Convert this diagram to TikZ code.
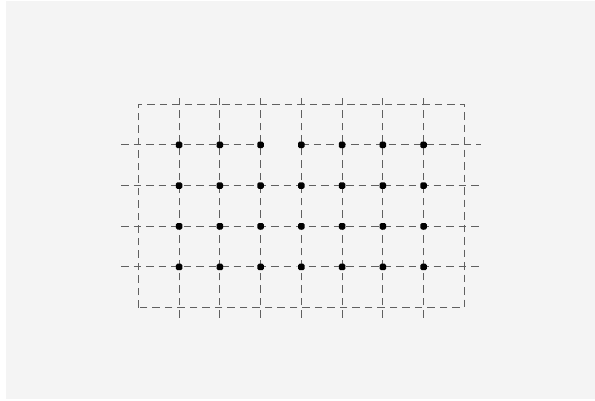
\documentclass[tikz,border=0pt]{standalone}
\usepackage{tikz}
\usetikzlibrary{backgrounds}
\definecolor{Paper}{HTML}{F4F4F4}
\definecolor{Guide}{HTML}{606060}
\tikzset{
  guide/.style={Guide,line width=1pt,dash pattern=on 7.5pt off 5pt},
  pin/.style={rectangle,rounded corners=1.5pt,fill=black,inner sep=0pt,minimum size=6.5pt},
}

\begin{document}
\begin{tikzpicture}[x=40.75pt,y=40.7pt]
\useasboundingbox (-138.3pt,-93.3pt) rectangle (456.7pt,307.7pt);
% pins on the inner grid
\foreach \i in {1,...,7}
  \foreach \j in {1,...,4}
    \node[pin] (d\i\j) at (\i,\j) {};
% free ends of the guide lines
\foreach \i in {1,...,7} {
  \coordinate (b\i) at (\i,-0.25); \coordinate (t\i) at (\i,5.25);
}
\foreach \j in {1,...,4} {
  \coordinate (l\j) at (-0.42,\j); \coordinate (r\j) at (8.42,\j);
}
\begin{pgfonlayer}{background}
  \fill[Paper] (-132.3pt,-91.3pt) rectangle (456.7pt,306.7pt);
  \draw[guide] (0,0) rectangle (8,5);
  \foreach \i in {1,...,7}
    \draw[guide] (b\i) -- (d\i1.center) -- (d\i2.center) -- (d\i3.center) -- (d\i4.center) -- (t\i);
  \foreach \j in {1,2,3}
    \draw[guide] (l\j) -- (d1\j.center) -- (d4\j.center) -- (d7\j.center) -- (r\j);
  % top row is broken between the third and fourth pin
  \draw[guide] (l4) -- (d14.center) -- (d24.center) -- (d34.center);
  \draw[guide] (d44.center) -- (d54.center) -- (d64.center) -- (d74.center) -- (r4);
\end{pgfonlayer}
\end{tikzpicture}
\end{document}
